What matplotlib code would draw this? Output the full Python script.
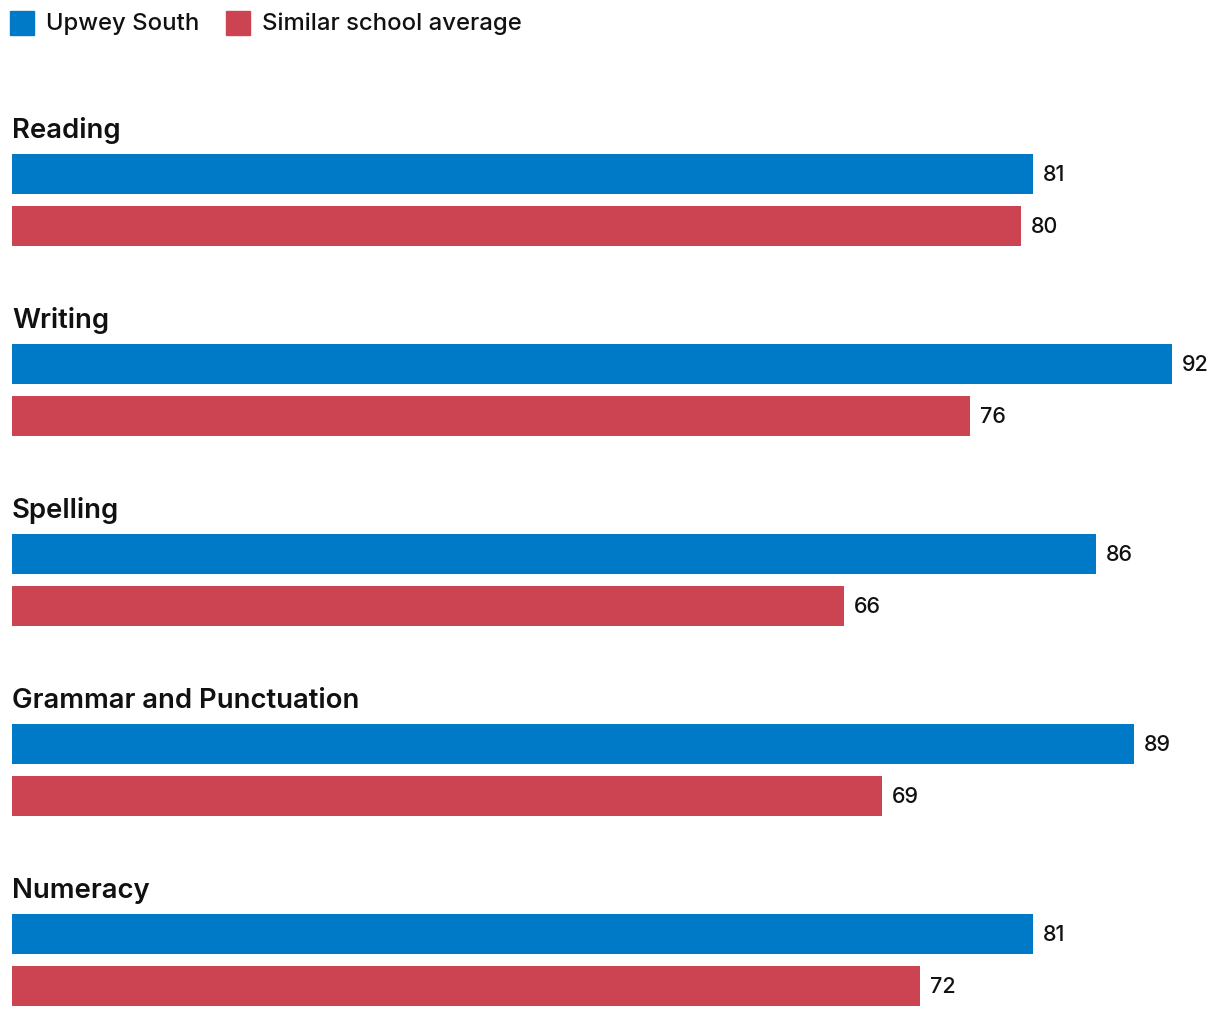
import matplotlib
matplotlib.use("Agg")
import matplotlib.pyplot as plt
from matplotlib.patches import Rectangle

categories = ["Reading", "Writing", "Spelling", "Grammar and Punctuation", "Numeracy"]
upwey_south = [81, 92, 86, 89, 81]
similar_avg = [80, 76, 66, 69, 72]
series_names = ["Upwey South", "Similar school average"]
colors = ["#007AC7", "#CC4452"]

plt.rcParams['font.family'] = ['Inter', 'DejaVu Sans']

W, H = 1220, 1018
fig = plt.figure(figsize=(W / 100, H / 100), dpi=100)
# axes: x from 12px to 1172px for 0..92, y in pixel units top-down
ax = fig.add_axes([12 / W, 0, 1160 / W, 1])
ax.set_xlim(0, max(upwey_south + similar_avg))
ax.set_ylim(H, 0)
ax.axis('off')

group_step = 190
first_blue = 174
bar_h = 40
gap = 52

def value_label(x, y, v):
    ax.annotate(f"{v}", xy=(x, y), xytext=(7, 0), textcoords='offset points',
                va='center', ha='left', fontsize=15.5, fontweight='medium',
                color='#111111', annotation_clip=False)

for i, cat in enumerate(categories):
    yb = first_blue + i * group_step
    yr = yb + gap
    ax.barh(yb, upwey_south[i], height=bar_h, color=colors[0], left=0)
    ax.barh(yr, similar_avg[i], height=bar_h, color=colors[1], left=0)
    value_label(upwey_south[i], yb + 1, upwey_south[i])
    value_label(similar_avg[i], yr + 1, similar_avg[i])
    ax.text(0, yb - 36, cat, va='baseline', ha='left', fontsize=19.8,
            fontweight='semibold', color='#111111', clip_on=False)

# legend
fig.patches.append(Rectangle((10 / W, 1 - 35 / H), 24 / W, 24 / H,
                             transform=fig.transFigure, color=colors[0]))
fig.text(46 / W, 1 - 30 / H, series_names[0], fontsize=17.2, fontweight='medium',
         va='baseline', ha='left', color='#111111')
fig.patches.append(Rectangle((226 / W, 1 - 35 / H), 24 / W, 24 / H,
                             transform=fig.transFigure, color=colors[1]))
fig.text(262 / W, 1 - 30 / H, series_names[1], fontsize=17.2, fontweight='medium',
         va='baseline', ha='left', color='#111111')

fig.savefig("out.png", dpi=100)
